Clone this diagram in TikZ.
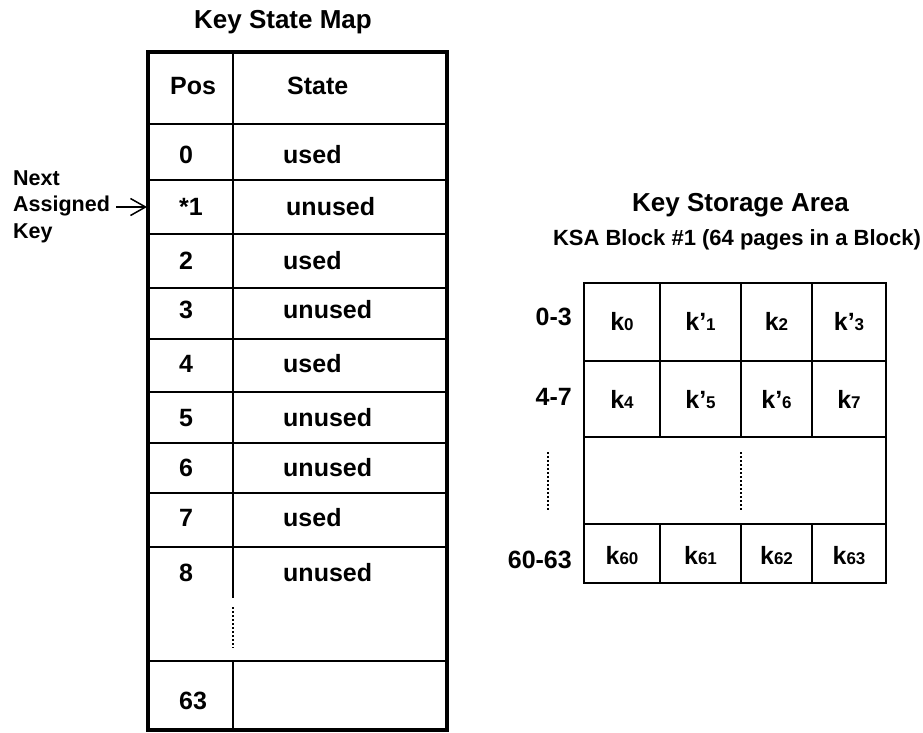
\documentclass[tikz,border=0pt]{standalone}
\usepackage{fontspec}
\setmainfont{Liberation Sans}
\usepackage{tikz}
\usetikzlibrary{arrows.meta,positioning,calc}
\newcommand{\ksub}[1]{{\fontsize{17}{20}\selectfont #1}}

\begin{document}
\begin{tikzpicture}[
    x=1pt, y=-1pt,
    heading/.style={font=\fontsize{26}{30}\selectfont\bfseries, inner sep=0pt, text height=18.6pt, text depth=0pt},
    subheading/.style={font=\fontsize{22}{26}\selectfont\bfseries, inner sep=0pt, text height=15.8pt, text depth=0pt},
    entry/.style={font=\fontsize{25}{30}\selectfont\bfseries, inner sep=0pt, text height=17.9pt, text depth=0pt},
    posentry/.style={entry, anchor=west},
    keyentry/.style={entry},
    nextlabel/.style={font=\fontsize{21.5}{26.5}\selectfont\bfseries, inner sep=0pt, align=left},
    mapframe/.style={line width=3.5pt},
    mapline/.style={line width=2.5pt},
    gridline/.style={line width=2pt},
    dotline/.style={line width=1.5pt, dash pattern=on 2pt off 2pt},
    arrow/.style={-{Straight Barb[length=15pt,width=17pt]}, line width=1.5pt}
]
\useasboundingbox (0,0) rectangle (923,732);

\node[heading] (maptitle) at (283,19.5) {Key State Map};

\draw[mapframe] (148,52) rectangle (447,730);
\draw[mapline] (148,124) -- (447,124) (148,180) -- (447,180) (148,234) -- (447,234)
    (148,288) -- (447,288) (148,339) -- (447,339) (148,392) -- (447,392)
    (148,443) -- (447,443) (148,493) -- (447,493) (148,547) -- (447,547)
    (148,661) -- (447,661);
\draw[mapline] (233,52) -- (233,598) (233,661) -- (233,730);
\draw[dotline] (233,607) -- (233,648);

\node[posentry] (poshead) at (170,86) {Pos};
\node[posentry] (statehead) at (287,86) {State};
\node[posentry] (pos0) at (179,155) {0};
\node[posentry] (state0) at (283,155) {used};
\node[posentry] (pos1) at (179,207) {*1};
\node[posentry] (state1) at (286,207) {unused};
\node[posentry] (pos2) at (179,261) {2};
\node[posentry] (state2) at (283,261) {used};
\node[posentry] (pos3) at (179,310) {3};
\node[posentry] (state3) at (283,310) {unused};
\node[posentry] (pos4) at (179,364) {4};
\node[posentry] (state4) at (283,364) {used};
\node[posentry] (pos5) at (179,418) {5};
\node[posentry] (state5) at (283,418) {unused};
\node[posentry] (pos6) at (179,468) {6};
\node[posentry] (state6) at (283,468) {unused};
\node[posentry] (pos7) at (179,518) {7};
\node[posentry] (state7) at (283,518) {used};
\node[posentry] (pos8) at (179,573) {8};
\node[posentry] (state8) at (283,573) {unused};
\node[posentry] (pos63) at (179,701) {63};

\node[nextlabel, anchor=north west] (nextkey) at (13,170) {Next\\Assigned\\Key};
\coordinate (slot1) at (147,207);
\draw[arrow, shorten <=6pt] (nextkey.east |- slot1) -- (slot1);

\node[heading] (ksatitle) at (740.5,202) {Key Storage Area};
\node[subheading] (ksablock) at (737,238) {KSA Block \#1 (64 pages in a Block)};

\draw[gridline] (584,283) rectangle (886,583);
\draw[gridline] (584,361) -- (886,361) (584,437) -- (886,437) (584,524) -- (886,524);
\draw[gridline] (660,283) -- (660,437) (741,283) -- (741,437) (812,283) -- (812,437)
    (660,524) -- (660,583) (741,524) -- (741,583) (812,524) -- (812,583);
\draw[dotline] (741,452) -- (741,510);
\draw[dotline] (548,452) -- (548,510);

\node[entry, anchor=east] (range0) at (572,317) {0-3};
\node[entry, anchor=east] (range1) at (572,397) {4-7};
\node[entry, anchor=east] (range15) at (572,560) {60-63};

\node[keyentry] (k0) at (622,322) {k\ksub{0}};
\node[keyentry] (k1) at (700.5,322) {k’\ksub{1}};
\node[keyentry] (k2) at (776.5,322) {k\ksub{2}};
\node[keyentry] (k3) at (849,322) {k’\ksub{3}};
\node[keyentry] (k4) at (622,400) {k\ksub{4}};
\node[keyentry] (k5) at (700.5,400) {k’\ksub{5}};
\node[keyentry] (k6) at (776.5,400) {k’\ksub{6}};
\node[keyentry] (k7) at (849,400) {k\ksub{7}};
\node[keyentry] (k60) at (622,556) {k\ksub{60}};
\node[keyentry] (k61) at (700.5,556) {k\ksub{61}};
\node[keyentry] (k62) at (776.5,556) {k\ksub{62}};
\node[keyentry] (k63) at (849,556) {k\ksub{63}};

\end{tikzpicture}
\end{document}
